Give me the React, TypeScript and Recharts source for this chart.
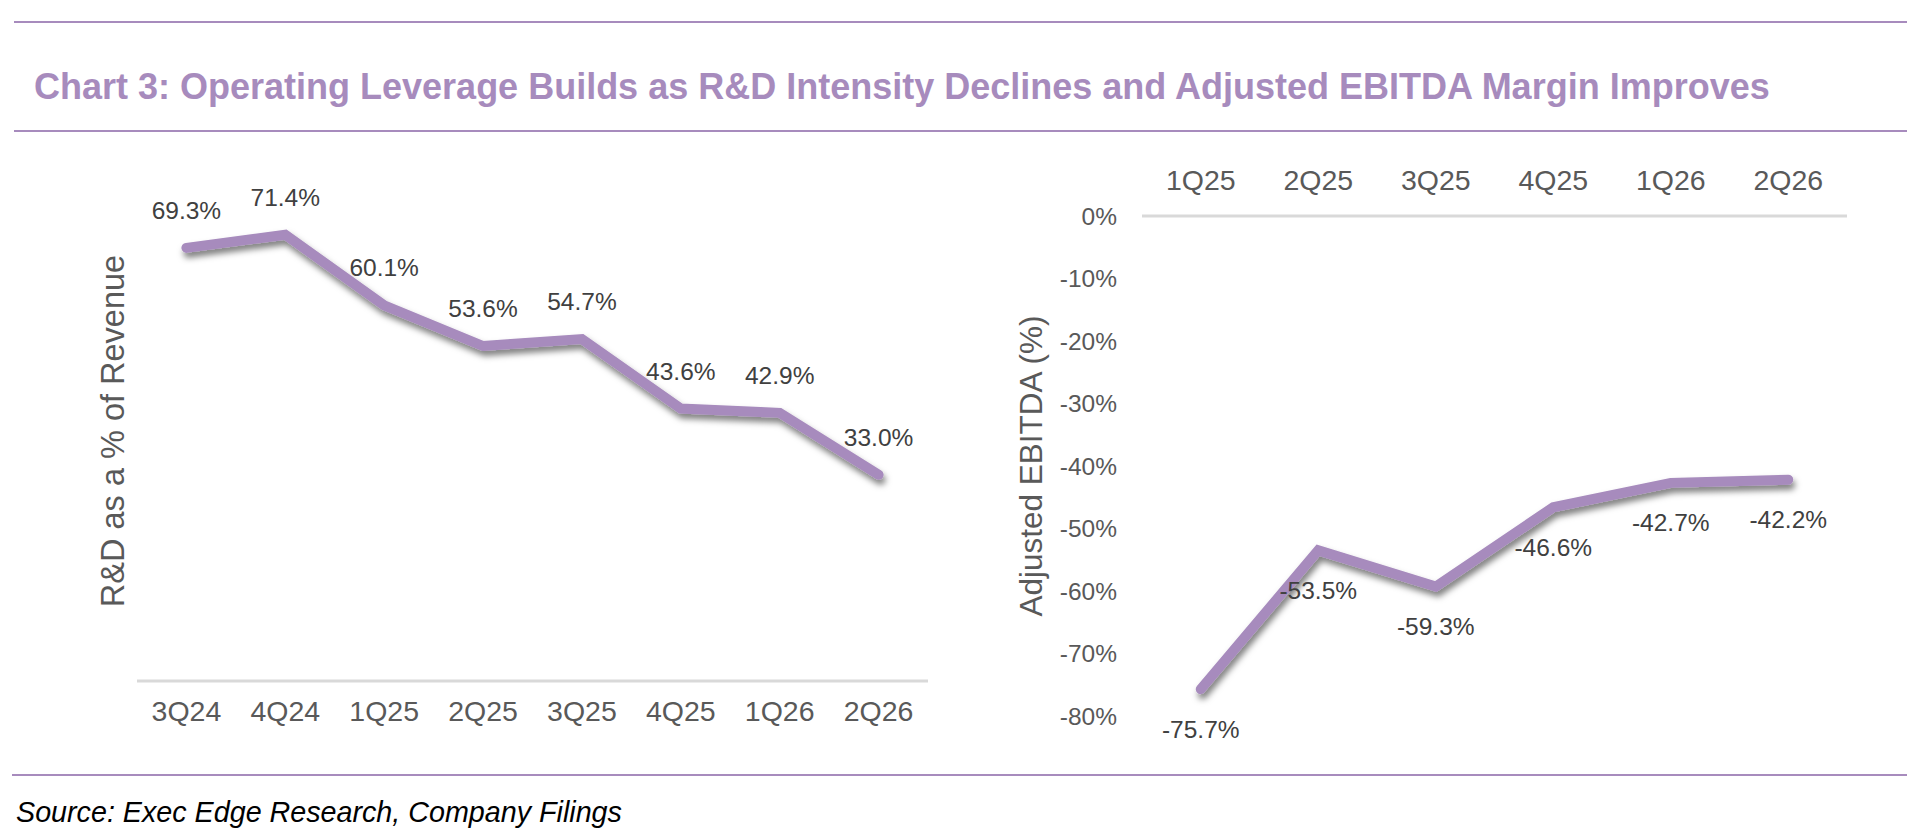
import React from 'react';
import { LineChart, Line, XAxis, YAxis, LabelList } from 'recharts';

// R&D intensity, left panel
const rdQuarters = ['3Q24', '4Q24', '1Q25', '2Q25', '3Q25', '4Q25', '1Q26', '2Q26'];
const rdValues = [69.3, 71.4, 60.1, 53.6, 54.7, 43.6, 42.9, 33.0];

// Adjusted EBITDA margin, right panel
const ebitdaQuarters = ['1Q25', '2Q25', '3Q25', '4Q25', '1Q26', '2Q26'];
const ebitdaValues = [-75.7, -53.5, -59.3, -46.6, -42.7, -42.2];
const ebitdaTicks = [0, -10, -20, -30, -40, -50, -60, -70, -80];

const rdData = rdQuarters.map((q, i) => ({ quarter: q, value: rdValues[i] }));
const ebitdaData = ebitdaQuarters.map((q, i) => ({ quarter: q, value: ebitdaValues[i] }));

const FONT = '"Liberation Sans", Arial, Helvetica, sans-serif';
const PURPLE = '#A78BBD';
const AXIS_GREY = '#D9D9D9';
const TICK_COLOR = '#595959';
const VALUE_COLOR = '#404040';

const pct = (v: any) => `${Number(v).toFixed(1)}%`;

const Rule = ({ top, left = 14, right = 1907 }: { top: number; left?: number; right?: number }) => (
  <div style={{ position: 'absolute', top, left, width: right - left, height: 2, background: PURPLE }} />
);

const ShadowDef = ({ id }: { id: string }) => (
  <defs>
    <filter id={id} filterUnits="userSpaceOnUse" x={0} y={0} width={1000} height={700}>
      <feDropShadow dx={2} dy={5} stdDeviation={3} floodColor="#000" floodOpacity={0.5} />
    </filter>
  </defs>
);

export default function App() {
  return (
    <div style={{ position: 'absolute', left: 0, top: 0, width: 1926, height: 839, background: '#fff', fontFamily: FONT, overflow: 'hidden' }}>
      <Rule top={21} />
      <div style={{ position: 'absolute', left: 34, top: 69, fontSize: 36, lineHeight: 1, fontWeight: 700, color: PURPLE, whiteSpace: 'nowrap' }}>
        Chart 3: Operating Leverage Builds as R&amp;D Intensity Declines and Adjusted EBITDA Margin Improves
      </div>
      <Rule top={130} />

      {/* left: R&D as % of revenue */}
      <div style={{ position: 'absolute', left: 0, top: 140 }}>
        <LineChart width={960} height={620} data={rdData} margin={{ top: 41, right: 32, bottom: 19, left: 0 }}>
          <ShadowDef id="shadowLeft" />
          <XAxis
            dataKey="quarter"
            height={60}
            padding={{ left: 49.4, right: 49.4 }}
            axisLine={{ stroke: AXIS_GREY, strokeWidth: 3 }}
            tickLine={false}
            tickMargin={14}
            tick={{ fill: TICK_COLOR, fontSize: 28.5, fontFamily: FONT }}
          />
          <YAxis
            width={137}
            domain={[0, 80]}
            tick={false}
            axisLine={false}
            tickLine={false}
            label={{
              value: 'R&D as a % of Revenue',
              angle: -90,
              position: 'insideLeft',
              offset: 112,
              fill: TICK_COLOR,
              fontSize: 32.5,
              style: { textAnchor: 'middle', fill: TICK_COLOR, fontSize: 32.5, fontFamily: FONT },
            }}
          />
          <Line
            type="linear"
            dataKey="value"
            stroke={PURPLE}
            strokeWidth={10}
            strokeLinecap="round"
            filter="url(#shadowLeft)"
            dot={false}
            activeDot={false}
            isAnimationActive={false}
          >
            <LabelList dataKey="value" position="top" offset={29} formatter={pct} fill={VALUE_COLOR} fontSize={24.5} fontFamily={FONT} />
          </Line>
        </LineChart>
      </div>

      {/* right: adjusted EBITDA margin */}
      <div style={{ position: 'absolute', left: 990, top: 140 }}>
        <LineChart width={936} height={620} data={ebitdaData} margin={{ top: 0, right: 79, bottom: 44, left: 0 }}>
          <ShadowDef id="shadowRight" />
          <XAxis
            dataKey="quarter"
            orientation="top"
            height={76}
            padding={{ left: 58.75, right: 58.75 }}
            axisLine={{ stroke: AXIS_GREY, strokeWidth: 3 }}
            tickLine={false}
            tickMargin={20}
            tick={{ fill: TICK_COLOR, fontSize: 28.5, fontFamily: FONT }}
          />
          <YAxis
            width={152}
            domain={[-80, 0]}
            ticks={ebitdaTicks}
            tickFormatter={(v: number) => `${v}%`}
            axisLine={false}
            tickLine={false}
            tickMargin={19}
            tick={{ fill: TICK_COLOR, fontSize: 24.5, fontFamily: FONT }}
            label={{
              value: 'Adjusted EBITDA (%)',
              angle: -90,
              position: 'insideLeft',
              offset: 41,
              fill: TICK_COLOR,
              fontSize: 31.5,
              style: { textAnchor: 'middle', fill: TICK_COLOR, fontSize: 31.5, fontFamily: FONT },
            }}
          />
          <Line
            type="linear"
            dataKey="value"
            stroke={PURPLE}
            strokeWidth={10}
            strokeLinecap="round"
            filter="url(#shadowRight)"
            dot={false}
            activeDot={false}
            isAnimationActive={false}
          >
            <LabelList dataKey="value" position="bottom" offset={31} formatter={pct} fill={VALUE_COLOR} fontSize={24.5} fontFamily={FONT} />
          </Line>
        </LineChart>
      </div>

      <Rule top={774} left={12} />
      <div style={{ position: 'absolute', left: 16, top: 798, fontSize: 28.7, lineHeight: 1, fontStyle: 'italic', color: '#000', whiteSpace: 'nowrap' }}>
        Source: Exec Edge Research, Company Filings
      </div>
    </div>
  );
}
